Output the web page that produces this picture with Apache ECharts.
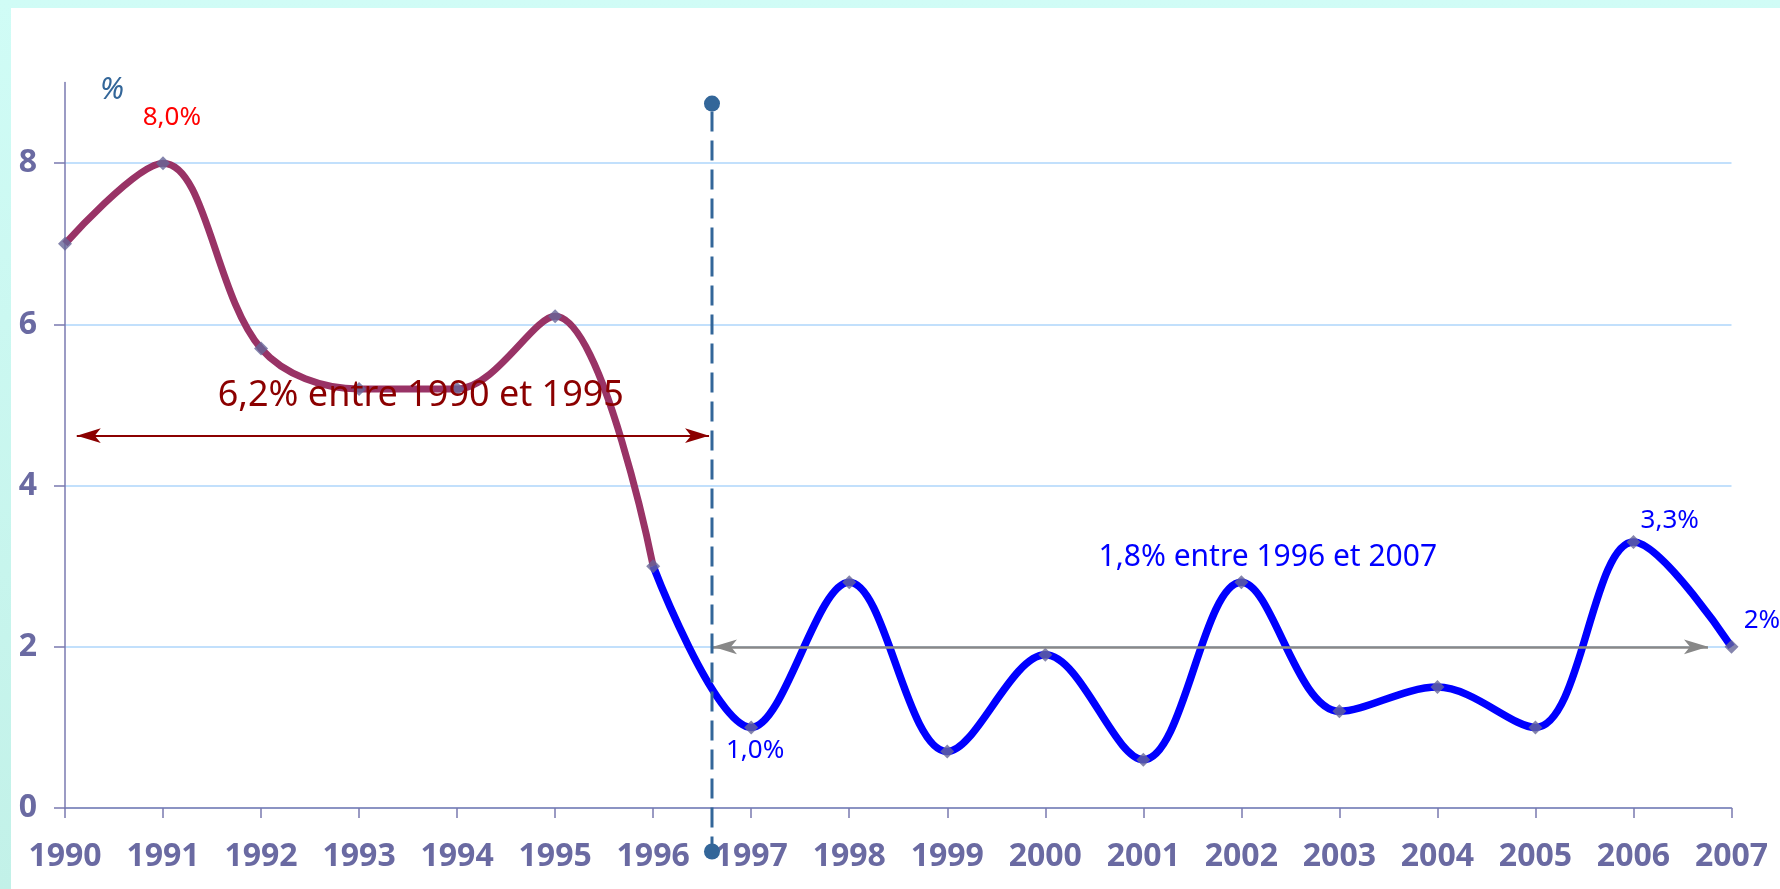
<!DOCTYPE html>
<html>
<head>
<meta charset="utf-8">
<script src="https://cdn.jsdelivr.net/npm/echarts@6/dist/echarts.min.js"></script>
<style>
  html, body { margin:0; padding:0; width:1780px; height:889px; overflow:hidden; }
  body { background: linear-gradient(180deg, #d0fcf6 0%, #c2f1e8 100%); position:relative; }
  #panel { position:absolute; left:11px; top:8px; right:0; bottom:0; background:#ffffff; }
  #chart { position:absolute; left:0; top:0; width:1780px; height:889px; }
</style>
</head>
<body>
<div id="panel"></div>
<div id="chart"></div>
<script>
// ---- data ----
const years = [1990,1991,1992,1993,1994,1995,1996,1997,1998,1999,2000,2001,2002,2003,2004,2005,2006,2007];
const rates = [7.0, 8.0, 5.7, 5.2, 5.2, 6.1, 3.0, 1.0, 2.8, 0.7, 1.9, 0.6, 2.8, 1.2, 1.5, 1.0, 3.3, 2.0];
const yTicks = [0, 2, 4, 6, 8];
const splitYear = 1996;               // colour change of the curve
const avg1 = { from: 1990.12, to: 1996.57, value: 4.62, text: '6,2% entre 1990 et 1995' };
const avg2 = { from: 1996.61, to: 2006.76, value: 2.0, text: '1,8% entre 1996 et 2007' };
const breakLine = { x: 1996.6, top: 8.74, bottom: -0.54 };
const notes = [
  { text: '%',    x: 1990.48, y: 8.90, color: '#336699', size: 30, style: 'italic' },
  { text: '8,0%', x: 1991.09, y: 8.56, color: '#ff0000', size: 26 },
  { text: avg1.text, x: 1993.63, y: 5.11, color: '#8b0000', size: 36 },
  { text: avg2.text, x: 2002.27, y: 3.11, color: '#0000ff', size: 30 },
  { text: '1,0%', x: 1997.04, y: 0.71, color: '#0000ff', size: 26 },
  { text: '3,3%', x: 2006.37, y: 3.57, color: '#0000ff', size: 26 },
  { text: '2%',   x: 2007.31, y: 2.32, color: '#0000ff', size: 26 }
];

const pts = years.map((y, i) => [y, rates[i]]);
const splitIdx = years.indexOf(splitYear);
const ptsEarly = pts.slice(0, splitIdx + 1);
const ptsLate = pts.slice(splitIdx);
const axisColor = '#7a7ab0';
const labelColor = '#6a6aa2';
const FONT = 'Noto Sans';

const chart = echarts.init(document.getElementById('chart'), null, { renderer: 'canvas' });
const option = {
  animation: false,
  backgroundColor: 'transparent',
  grid: { left: 65, right: 48.5, top: 82.6, bottom: 81, containLabel: false },
  xAxis: {
    type: 'value', min: 1990, max: 2007, interval: 1,
    axisLine: { show: true, lineStyle: { color: axisColor, width: 1.5 } },
    axisTick: { show: true, length: 10, lineStyle: { color: axisColor, width: 1.5 } },
    axisLabel: { margin: 33, color: labelColor, fontSize: 32, fontWeight: 'bold', fontFamily: FONT,
                 formatter: v => String(v) },
    splitLine: { show: false }
  },
  yAxis: {
    type: 'value', min: 0, max: 9, interval: 2,
    axisLine: { show: true, lineStyle: { color: axisColor, width: 1.5 } },
    axisTick: { show: true, length: 11, customValues: yTicks, lineStyle: { color: axisColor, width: 1.5 } },
    axisLabel: { margin: 28, color: labelColor, fontSize: 32, fontWeight: 'bold', fontFamily: FONT,
                 customValues: yTicks, formatter: v => (v >= 9 ? '' : String(v)) },
    splitLine: { show: true, lineStyle: { color: '#aed6fb', width: 1.5 } }
  },
  series: [
    {
      type: 'line', data: ptsEarly, smooth: 0.35, showSymbol: false, z: 3,
      lineStyle: { width: 7, color: '#993366' }, itemStyle: { color: '#993366' }
    },
    {
      type: 'line', data: ptsLate, smooth: 0.35, showSymbol: false, z: 3,
      lineStyle: { width: 7.5, color: '#0000ff' }, itemStyle: { color: '#0000ff' }
    },
    {
      type: 'scatter', data: pts, symbol: 'diamond', symbolSize: 14, z: 4,
      itemStyle: { color: '#666699' },
      markLine: {
        silent: true, symbol: ['arrow', 'arrow'], symbolSize: [11, 24], label: { show: false },
        data: [
          [ { coord: [avg1.from, avg1.value], lineStyle: { color: '#8b0000', width: 2, type: 'solid' } },
            { coord: [avg1.to, avg1.value] } ],
          [ { coord: [avg2.from, avg2.value], lineStyle: { color: '#888888', width: 2.6, type: 'solid' } },
            { coord: [avg2.to, avg2.value] } ]
        ]
      }
    }
  ]
};
chart.setOption(option);

function drawAnnotations() {
  const g = [];
  const p1 = chart.convertToPixel({ gridIndex: 0 }, [breakLine.x, breakLine.top]);
  const p2 = chart.convertToPixel({ gridIndex: 0 }, [breakLine.x, breakLine.bottom]);
  g.push({ type: 'line', shape: { x1: p1[0], y1: p1[1] + 8, x2: p2[0], y2: p2[1] },
           style: { stroke: '#336699', lineWidth: 3, lineDash: [20, 9] }, z: 10 });
  g.push({ type: 'circle', shape: { cx: p1[0], cy: p1[1], r: 8 }, style: { fill: '#336699' }, z: 11 });
  g.push({ type: 'circle', shape: { cx: p2[0], cy: p2[1], r: 8 }, style: { fill: '#336699' }, z: 11 });
  notes.forEach(n => {
    const p = chart.convertToPixel({ gridIndex: 0 }, [n.x, n.y]);
    g.push({ type: 'text', x: p[0], y: p[1], z: 12,
      style: { text: n.text, fill: n.color, fontSize: n.size, fontFamily: FONT,
               fontStyle: n.style || 'normal', align: 'center', verticalAlign: 'middle' } });
  });
  chart.setOption({ graphic: { elements: g } });
}
drawAnnotations();
</script>
</body>
</html>
